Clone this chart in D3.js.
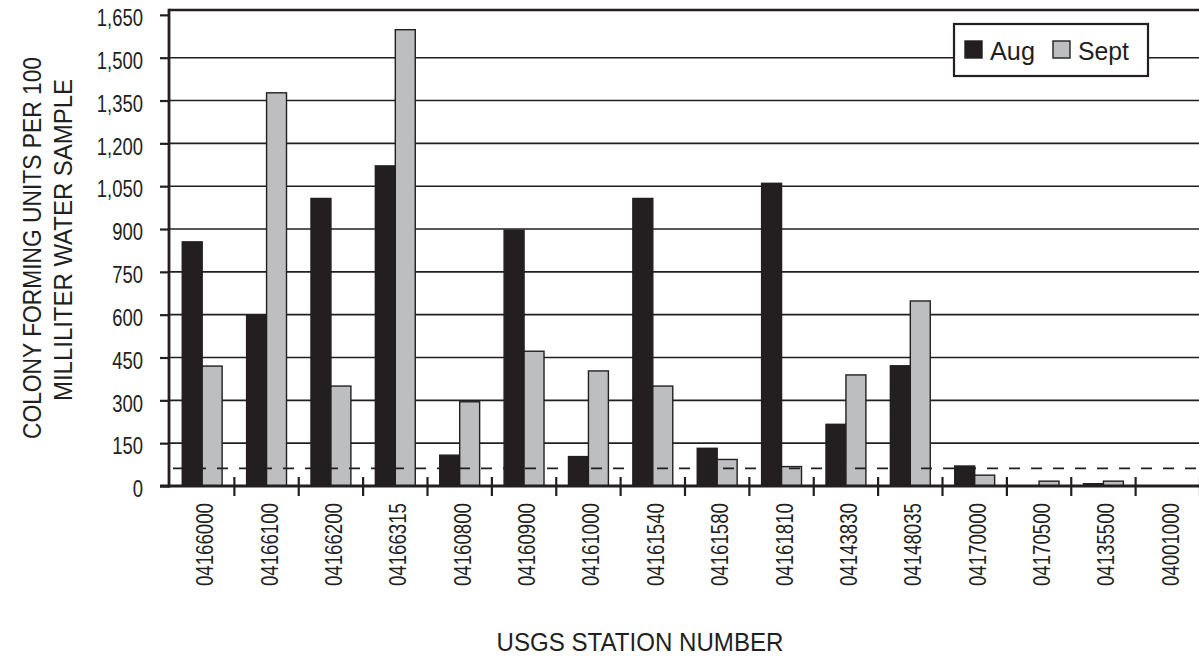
<!DOCTYPE html>
<html>
<head>
<meta charset="utf-8">
<script src="https://cdn.jsdelivr.net/npm/d3@7"></script>
<style>
  html, body { margin: 0; padding: 0; background: #fff; }
  svg { display: block; }
  text {
    font-family: "Liberation Sans", Arial, "DejaVu Sans", sans-serif;
    fill: #231f20;
  }
</style>
</head>
<body>
<svg id="chart" width="1199" height="659"></svg>
<script>
// Bacteria counts by USGS station, August and September samples
const stations = [
  "04166000", "04166100", "04166200", "04166315", "04160800", "04160900",
  "04161000", "04161540", "04161580", "04161810", "04143830", "04148035",
  "04170000", "04170500", "04135500", "04001000"
];
const augValues  = [855, 598, 1007, 1121, 108, 896, 103, 1007, 132, 1060, 216, 421, 70, 0, 8, 0];
const septValues = [420, 1377, 350, 1598, 295, 472, 403, 350, 93, 68, 389, 648, 38, 17, 17, 0];
const seriesNames = ["Aug", "Sept"];
const yTickValues = [0, 150, 300, 450, 600, 750, 900, 1050, 1200, 1350, 1500, 1650];
const referenceLevel = 62;
const yMax = 1667;

const ink = "#231f20";
const seriesFill = { Aug: "#231f20", Sept: "#bcbec0" };

const svg = d3.select("#chart");

// squeeze a text element horizontally to a condensed look
function condense(sel, factor) {
  sel.each(function () {
    const w = this.getComputedTextLength();
    d3.select(this).attr("textLength", w * factor).attr("lengthAdjust", "spacingAndGlyphs");
  });
}

const axisX = 169;
const y = d3.scaleLinear().domain([0, yMax]).range([486, 10]);
const x = d3.scaleBand().domain(stations).range([170, 1200])
  .paddingInner(0.38).paddingOuter(0.19);
const xSub = d3.scaleBand().domain(seriesNames).range([0, x.bandwidth()]);

const rows = stations.map((s, i) => ({ station: s, Aug: augValues[i], Sept: septValues[i] }));

// horizontal gridlines (behind the bars)
svg.append("g")
  .selectAll("line")
  .data(yTickValues.filter(v => v > 0 && v < 1650))
  .join("line")
  .attr("x1", axisX).attr("x2", 1199)
  .attr("y1", d => y(d)).attr("y2", d => y(d))
  .attr("stroke", ink).attr("stroke-width", 1.6);

// top frame line
svg.append("line")
  .attr("x1", axisX).attr("x2", 1199)
  .attr("y1", y(yMax)).attr("y2", y(yMax))
  .attr("stroke", ink).attr("stroke-width", 2.6);

// grouped bars
const groups = svg.append("g")
  .selectAll("g")
  .data(rows)
  .join("g")
  .attr("transform", d => `translate(${x(d.station)},0)`);

groups.selectAll("rect")
  .data(d => seriesNames.map(k => ({ key: k, value: d[k] })))
  .join("rect")
  .attr("x", d => xSub(d.key))
  .attr("width", xSub.bandwidth())
  .attr("y", d => y(d.value))
  .attr("height", d => y(0) - y(d.value))
  .attr("fill", d => seriesFill[d.key])
  .attr("stroke", ink)
  .attr("stroke-width", 1.4);

// dashed reference level
svg.append("line")
  .attr("x1", axisX).attr("x2", 1199)
  .attr("y1", y(referenceLevel)).attr("y2", y(referenceLevel))
  .attr("stroke", ink).attr("stroke-width", 1.8)
  .attr("stroke-dasharray", "11,11")
  .attr("stroke-dashoffset", -4);

// y axis
const yAxis = svg.append("g")
  .attr("transform", `translate(${axisX},0)`)
  .call(d3.axisLeft(y).tickValues(yTickValues).tickSize(9).tickPadding(17)
    .tickFormat(d3.format(",")));
yAxis.select(".domain").remove();
yAxis.attr("font-family", null).attr("font-size", null);
yAxis.selectAll(".tick line").attr("stroke", ink).attr("stroke-width", 2.2);
yAxis.selectAll(".tick text")
  .attr("font-size", 24).attr("dy", "0.45em").attr("fill", ink)
  .call(condense, 0.77);
svg.append("line")
  .attr("x1", axisX).attr("x2", axisX)
  .attr("y1", y(yMax) - 1.3).attr("y2", y(0) + 1.5)
  .attr("stroke", ink).attr("stroke-width", 2.8);

// x axis baseline and category separators
svg.append("line")
  .attr("x1", axisX - 9).attr("x2", 1199)
  .attr("y1", y(0)).attr("y2", y(0))
  .attr("stroke", ink).attr("stroke-width", 3);

const boundaries = stations.map(s => x(s) + x.bandwidth() + x.step() * x.paddingInner() / 2);
svg.append("g")
  .selectAll("line")
  .data(boundaries)
  .join("line")
  .attr("x1", d => d).attr("x2", d => d)
  .attr("y1", y(0) - 9).attr("y2", y(0) + 10)
  .attr("stroke", ink).attr("stroke-width", 2.2);

// rotated station labels
svg.append("g")
  .selectAll("text")
  .data(stations)
  .join("text")
  .attr("transform", d => `translate(${x(d) + x.bandwidth() / 2 + 11},503) rotate(-90)`)
  .attr("text-anchor", "end")
  .attr("font-size", 24)
  .attr("textLength", 83).attr("lengthAdjust", "spacingAndGlyphs")
  .text(d => d);

// axis titles
svg.append("text")
  .attr("x", 640).attr("y", 651)
  .attr("text-anchor", "middle")
  .attr("font-size", 25)
  .attr("textLength", 287).attr("lengthAdjust", "spacingAndGlyphs")
  .text("USGS STATION NUMBER");

const yTitle = svg.append("g").attr("transform", "rotate(-90)");
yTitle.append("text")
  .attr("x", -248).attr("y", 41)
  .attr("text-anchor", "middle")
  .attr("font-size", 25)
  .attr("textLength", 382).attr("lengthAdjust", "spacingAndGlyphs")
  .text("COLONY FORMING UNITS PER 100");
yTitle.append("text")
  .attr("x", -240).attr("y", 72)
  .attr("text-anchor", "middle")
  .attr("font-size", 25)
  .attr("textLength", 322).attr("lengthAdjust", "spacingAndGlyphs")
  .text("MILLILITER WATER SAMPLE");

// legend
const legend = svg.append("g");
legend.append("rect")
  .attr("x", 954).attr("y", 24).attr("width", 194).attr("height", 52)
  .attr("fill", "#fff").attr("stroke", ink).attr("stroke-width", 2.2);
const legendItems = [
  { key: "Aug", sx: 965, tx: 990, tw: 45 },
  { key: "Sept", sx: 1053, tx: 1078, tw: 51 }
];
legendItems.forEach(item => {
  legend.append("rect")
    .attr("x", item.sx).attr("y", 41).attr("width", 17).attr("height", 17)
    .attr("fill", seriesFill[item.key]).attr("stroke", ink).attr("stroke-width", 1.4);
  legend.append("text")
    .attr("x", item.tx).attr("y", 60)
    .attr("font-size", 26)
    .attr("textLength", item.tw).attr("lengthAdjust", "spacingAndGlyphs")
    .text(item.key);
});
</script>
</body>
</html>
